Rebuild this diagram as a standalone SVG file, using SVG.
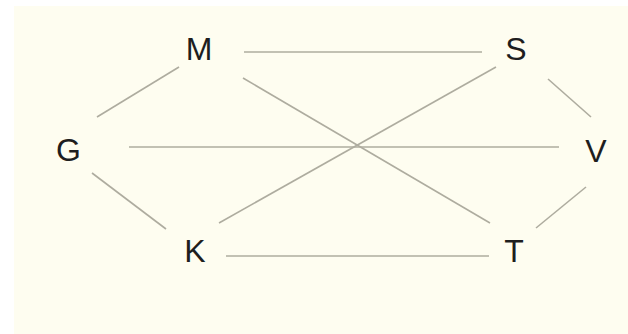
<svg xmlns="http://www.w3.org/2000/svg" width="628" height="334" viewBox="0 0 628 334">
<style>
.lbl{font-family:"Liberation Sans",Arial,sans-serif;font-size:32px;fill:#1e1e1e;text-anchor:middle}
.e{stroke:#aeac9f;stroke-width:1.6;fill:none}
</style>
<rect x="0" y="0" width="628" height="334" fill="#ffffff"/>
<rect x="14" y="6" width="614" height="328" fill="#fefdf0"/>
<g id="connectors">
<line class="e" x1="244" y1="52" x2="482" y2="52"/>
<line class="e" x1="179" y1="67" x2="97" y2="117"/>
<line class="e" x1="129" y1="147" x2="559" y2="147"/>
<line class="e" x1="92" y1="173" x2="166" y2="229"/>
<line class="e" x1="219" y1="223" x2="496" y2="67"/>
<line class="e" x1="243" y1="78" x2="490" y2="223"/>
<line class="e" x1="226" y1="256" x2="489" y2="256"/>
<line class="e" x1="548" y1="79" x2="591" y2="117"/>
<line class="e" x1="586" y1="187" x2="536" y2="228"/>
</g>
<g id="M"><text class="lbl" x="199" y="60">M</text></g>
<g id="S"><text class="lbl" x="516" y="60">S</text></g>
<g id="G"><text class="lbl" x="68.5" y="161">G</text></g>
<g id="V"><text class="lbl" x="596" y="162">V</text></g>
<g id="K"><text class="lbl" x="195" y="262">K</text></g>
<g id="T"><text class="lbl" x="514" y="262">T</text></g>
</svg>
